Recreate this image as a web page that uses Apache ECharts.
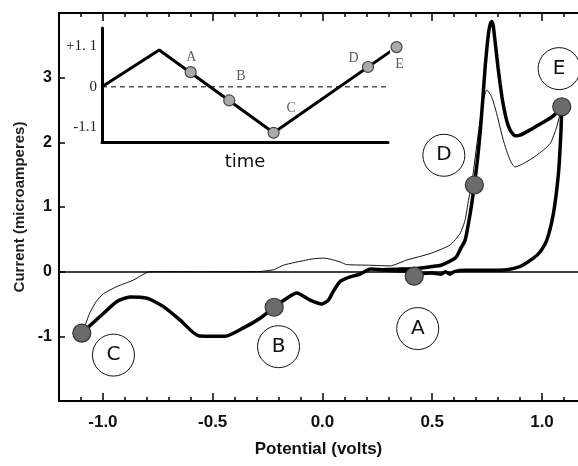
<!DOCTYPE html>
<html>
<head>
<meta charset="utf-8">
<script src="https://cdn.jsdelivr.net/npm/echarts@6/dist/echarts.min.js"></script>
<style>
    html, body { margin: 0; padding: 0; background: #fff; }
    #cvChart { width: 578px; height: 466px; }
</style>
</head>
<body>
<div id="cvChart"></div>
<script type="text/javascript">
    // main voltammogram: potential (V) and current (uA)
    var thickV = [0.25, 0.35, 0.43, 0.5, 0.54, 0.58, 0.61, 0.63, 0.65, 0.673, 0.692, 0.705, 0.718, 0.73, 0.741, 0.756, 0.765, 0.771, 0.778, 0.79, 0.80, 0.809, 0.82, 0.832, 0.845, 0.86, 0.88, 0.9, 0.95, 1.0, 1.04, 1.07, 1.09,
        1.086, 1.075, 1.052, 1.022, 0.99, 0.961, 0.90, 0.84, 0.75, 0.65, 0.6, 0.58, 0.56, 0.54, 0.5, 0.45, 0.4, 0.3, 0.22, 0.17, 0.126, 0.081, 0.05, 0.027, -0.003, -0.056, -0.117, -0.162, -0.22, -0.284, -0.36, -0.443, -0.565, -0.648, -0.724, -0.80, -0.876, -0.936, -1.012, -1.096];
    var thickI = [0.03, 0.04, 0.05, 0.08, 0.1, 0.16, 0.23, 0.36, 0.49, 0.9, 1.34, 1.7, 2.14, 2.65, 3.16, 3.68, 3.84, 3.87, 3.8, 3.45, 3.15, 2.91, 2.65, 2.44, 2.27, 2.16, 2.1, 2.11, 2.2, 2.3, 2.38, 2.47, 2.55,
        2.14, 1.52, 0.9, 0.49, 0.3, 0.21, 0.08, 0.03, 0.02, 0.02, 0.0, -0.04, 0.0, -0.04, -0.02, -0.03, 0.0, 0.02, 0.04, -0.04, -0.08, -0.15, -0.3, -0.44, -0.5, -0.44, -0.33, -0.41, -0.55, -0.72, -0.87, -1.0, -0.99, -0.75, -0.54, -0.41, -0.39, -0.46, -0.69, -0.95];

    var thinV = [-1.096, -1.08, -1.06, -1.03, -0.997, -0.936, -0.861, -0.785, -0.5, -0.3, -0.223, -0.178, -0.13, -0.087, -0.04, 0.005, 0.04, 0.08, 0.11, 0.21, 0.308, 0.384, 0.49, 0.58, 0.627, 0.65, 0.665, 0.68, 0.71, 0.733, 0.749, 0.771, 0.794, 0.824, 0.855, 0.877, 0.915, 0.976, 1.037, 1.067, 1.09];
    var thinI = [-0.95, -0.82, -0.64, -0.46, -0.34, -0.23, -0.13, 0.0, 0.0, 0.0, 0.03, 0.10, 0.14, 0.17, 0.2, 0.21, 0.19, 0.15, 0.11, 0.10, 0.09, 0.18, 0.28, 0.41, 0.59, 0.8, 1.1, 1.36, 2.14, 2.65, 2.81, 2.70, 2.44, 2.03, 1.72, 1.62, 1.67, 1.80, 1.98, 2.24, 2.55];

    var pointNames = ['A', 'B', 'C', 'D', 'E'];
    var pointV = [0.418, -0.22, -1.096, 0.692, 1.09];
    var pointI = [-0.07, -0.55, -0.95, 1.34, 2.55];

    // circled letters
    var tagV = [0.434, -0.20, -0.952, 0.553, 1.078];
    var tagI = [-0.88, -1.16, -1.29, 1.80, 3.14];

    var xMajor = [-1.0, -0.5, 0.0, 0.5, 1.0];
    var xMinor = [-1.1, -0.9, -0.8, -0.7, -0.6, -0.4, -0.3, -0.2, -0.1, 0.1, 0.2, 0.3, 0.4, 0.6, 0.7, 0.8, 0.9, 1.1];
    var yTicks = [-1, 0, 1, 2, 3];

    // inset: applied potential vs time
    var waveT = [0, 2.0, 6.0, 10.3];
    var waveE = [0, 1.0, -1.25, 1.08];
    var insetT = [3.1, 4.45, 6.0, 9.3, 10.3];
    var insetE = [0.4, -0.37, -1.25, 0.54, 1.08];
    var insetLabT = [3.12, 4.86, 6.61, 8.8, 10.4];
    var insetLabE = [0.81, 0.29, -0.59, 0.77, 0.61];
    var insetTicks = [-1.1, 0, 1.1];
    var insetTickText = ['-1.1', '0', '+1. 1'];

    function zip(a, b) {
        var out = [];
        for (var i = 0; i < a.length; i++) {
            out.push([a[i], b[i]]);
        }
        return out;
    }
    function named(a, b) {
        var out = [];
        for (var i = 0; i < a.length; i++) {
            out.push({ name: pointNames[i], value: [a[i], b[i]] });
        }
        return out;
    }

    var axisFont = 'Liberation Sans, Arial, sans-serif';
    var comicFont = 'DejaVu Sans, sans-serif';
    var serifFont = 'Liberation Serif, Times New Roman, serif';

    // the frame is cut off on the right a little before 1.2 V
    var xMin = -1.2, xMax = 1.164;

    function tickAxis(pos, values, len, withLine, withLabel) {
        return {
            type: 'value', gridIndex: 0, position: pos, min: xMin, max: xMax,
            axisLine: { show: withLine, onZero: false, lineStyle: { color: '#000', width: 2 } },
            axisTick: { show: true, inside: true, length: len, customValues: values, lineStyle: { color: '#000', width: 1.5 } },
            axisLabel: withLabel ? {
                show: true, customValues: xMajor, margin: 13,
                fontFamily: axisFont, fontWeight: 'bold', fontSize: 17, color: '#111',
                formatter: function (v) { return v.toFixed(1); }
            } : { show: false },
            splitLine: { show: false }
        };
    }

    var bottomAxis = tickAxis('bottom', xMajor, 8, true, true);
    bottomAxis.name = 'Potential (volts)';
    bottomAxis.nameLocation = 'middle';
    bottomAxis.nameGap = 40;
    bottomAxis.nameTextStyle = { fontFamily: axisFont, fontWeight: 'bold', fontSize: 17, color: '#111' };

    var option = {
        animation: false,
        backgroundColor: '#fff',
        grid: [
            { left: 59, right: 0, top: 13, bottom: 65 },
            { left: 102, top: 28, width: 286, height: 114 }
        ],
        xAxis: [
            bottomAxis,
            tickAxis('bottom', xMinor, 4, false, false),
            tickAxis('top', xMajor, 8, true, false),
            tickAxis('top', xMinor, 4, false, false),
            {
                type: 'value', gridIndex: 1, min: 0, max: 10,
                axisLine: { show: true, onZero: false, lineStyle: { color: '#000', width: 3 } },
                axisTick: { show: false },
                axisLabel: { show: false },
                splitLine: { show: false },
                name: 'time', nameLocation: 'middle', nameGap: 11,
                nameTextStyle: { fontFamily: comicFont, fontSize: 18, color: '#111' }
            }
        ],
        yAxis: [
            {
                type: 'value', gridIndex: 0, min: -2, max: 4,
                axisLine: { show: true, onZero: false, lineStyle: { color: '#000', width: 2 } },
                axisTick: { show: true, inside: true, length: 6, customValues: yTicks, lineStyle: { color: '#000', width: 1.5 } },
                axisLabel: { show: true, customValues: yTicks, margin: 7, fontFamily: axisFont, fontWeight: 'bold', fontSize: 16, color: '#111' },
                splitLine: { show: false },
                name: 'Current (microamperes)', nameLocation: 'middle', nameRotate: 90, nameGap: 30,
                nameTextStyle: { fontFamily: axisFont, fontWeight: 'bold', fontSize: 15, color: '#222' }
            },
            {
                type: 'value', gridIndex: 1, min: -1.5, max: 1.6,
                axisLine: { show: true, onZero: false, lineStyle: { color: '#000', width: 3 } },
                axisTick: { show: false },
                axisLabel: {
                    show: true, customValues: insetTicks, margin: 5,
                    fontFamily: serifFont, fontSize: 15, color: '#222',
                    formatter: function (v) { return insetTickText[insetTicks.indexOf(v)]; }
                },
                splitLine: { show: false }
            }
        ],
        series: [
            {
                name: 'second scan', type: 'line', xAxisIndex: 0, yAxisIndex: 0,
                data: zip(thinV, thinI), showSymbol: false, smooth: 0.2,
                lineStyle: { color: '#111', width: 1 }, z: 2
            },
            {
                name: 'first scan', type: 'line', xAxisIndex: 0, yAxisIndex: 0,
                data: zip(thickV, thickI), showSymbol: false, smooth: 0.2,
                lineStyle: { color: '#000', width: 3.5 }, z: 3,
                markLine: {
                    silent: true, symbol: 'none', label: { show: false },
                    lineStyle: { color: '#000', width: 1.5, type: 'solid' },
                    data: [{ yAxis: 0 }]
                }
            },
            {
                type: 'scatter', xAxisIndex: 0, yAxisIndex: 0,
                data: named(pointV, pointI), symbolSize: 18,
                itemStyle: { color: '#6b6b6b', borderColor: '#333', borderWidth: 1.2, opacity: 1 }, z: 5
            },
            {
                type: 'scatter', xAxisIndex: 0, yAxisIndex: 0, clip: false,
                data: named(tagV, tagI), symbolSize: 42,
                itemStyle: { color: '#fff', borderColor: '#111', borderWidth: 1, opacity: 1 },
                label: { show: true, position: 'inside', formatter: '{b}', fontFamily: comicFont, fontSize: 20, color: '#111' },
                z: 6
            },
            {
                type: 'line', xAxisIndex: 4, yAxisIndex: 1,
                data: [[0, 0], [9.94, 0]], showSymbol: false,
                lineStyle: { color: '#555', width: 1.5, type: [5, 4] }, z: 7
            },
            {
                type: 'line', xAxisIndex: 4, yAxisIndex: 1,
                data: zip(waveT, waveE), showSymbol: false, clip: false,
                lineStyle: { color: '#000', width: 3 }, z: 8
            },
            {
                type: 'scatter', xAxisIndex: 4, yAxisIndex: 1, clip: false,
                data: named(insetT, insetE), symbolSize: 11,
                itemStyle: { color: '#aaa', borderColor: '#444', borderWidth: 1.2, opacity: 1 }, z: 9
            },
            {
                type: 'scatter', xAxisIndex: 4, yAxisIndex: 1, clip: false,
                data: named(insetLabT, insetLabE), symbolSize: 0,
                label: { show: true, position: 'inside', formatter: '{b}', fontFamily: serifFont, fontSize: 14, color: '#333' },
                z: 9
            }
        ]
    };

    var cvChart = echarts.init(document.getElementById('cvChart'));
    cvChart.setOption(option);
</script>
</body>
</html>
